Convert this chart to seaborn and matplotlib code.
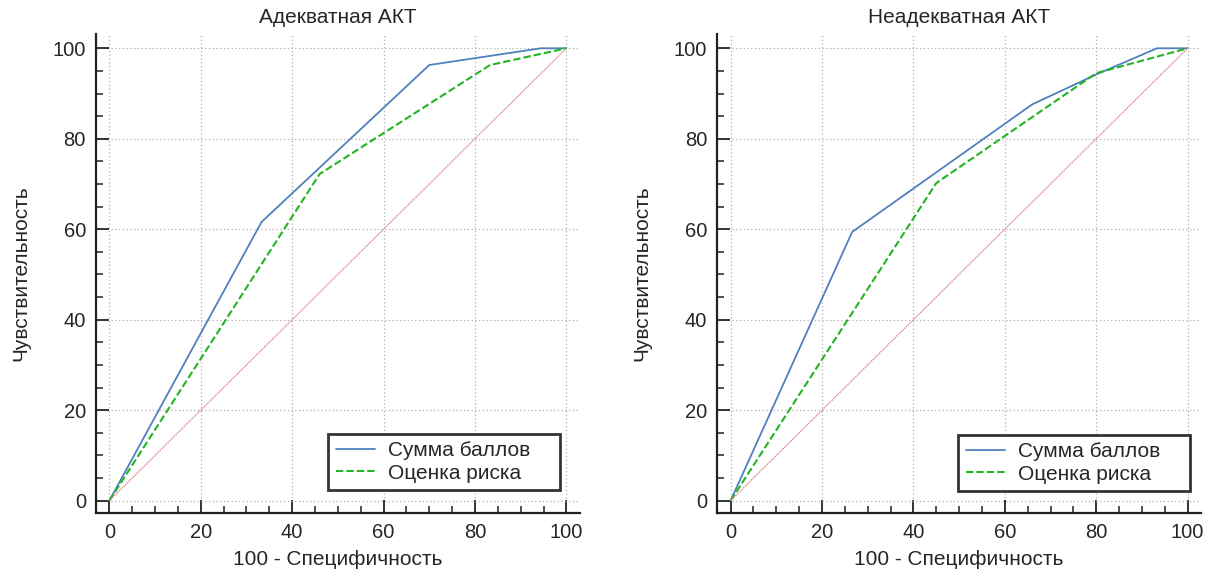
import seaborn as sns
import pandas as pd
from matplotlib import pyplot as plt
from matplotlib.ticker import MultipleLocator

# ROC-кривые: x = 100 - специфичность, y = чувствительность
titles = ["Адекватная АКТ", "Неадекватная АКТ"]
series_names = ["Сумма баллов", "Оценка риска"]

adeq_sum_x = [0, 33.3, 70.0, 94.4, 100]
adeq_sum_y = [0, 61.6, 96.3, 100, 100]
adeq_risk_x = [0, 46.0, 83.3, 100]
adeq_risk_y = [0, 72.2, 96.3, 100]

inadeq_sum_x = [0, 26.6, 66.0, 80.0, 93.3, 100]
inadeq_sum_y = [0, 59.4, 87.6, 94.2, 100, 100]
inadeq_risk_x = [0, 45.0, 80.0, 100]
inadeq_risk_y = [0, 70.2, 94.5, 100]

diag = [0, 100]

panels = [
    (adeq_sum_x, adeq_sum_y, adeq_risk_x, adeq_risk_y),
    (inadeq_sum_x, inadeq_sum_y, inadeq_risk_x, inadeq_risk_y),
]

sns.set_style("white")
plt.rcParams['font.family'] = ['Liberation Sans', 'DejaVu Sans']

fig = plt.figure(figsize=(12.11, 5.73), dpi=100)
positions = [[0.079, 0.105, 0.400, 0.836], [0.592, 0.105, 0.400, 0.836]]
legend_anchor = [(0.959, 0.048), (0.977, 0.046)]

for pos, anchor, title, (sx, sy, rx, ry) in zip(positions, legend_anchor, titles, panels):
    ax = fig.add_axes(pos)
    df = pd.concat([
        pd.DataFrame({"x": sx, "y": sy, "s": series_names[0]}),
        pd.DataFrame({"x": rx, "y": ry, "s": series_names[1]}),
    ])
    sns.lineplot(data=df[df.s == series_names[0]], x="x", y="y", sort=False,
                 color="#4f81bd", lw=1.3, ax=ax, label=series_names[0])
    sns.lineplot(data=df[df.s == series_names[1]], x="x", y="y", sort=False,
                 color="#22b422", lw=1.5, ls=(0, (3.5, 1.5)), ax=ax,
                 label=series_names[1])
    sns.lineplot(x=diag, y=diag, color="#e08a8a", lw=1.0, ls=(0, (1, 0.6)),
                 ax=ax, legend=False)

    ax.set_xlim(-3, 103)
    ax.set_ylim(-2.7, 103.2)
    ax.xaxis.set_major_locator(MultipleLocator(20))
    ax.yaxis.set_major_locator(MultipleLocator(20))
    ax.xaxis.set_minor_locator(MultipleLocator(5))
    ax.yaxis.set_minor_locator(MultipleLocator(5))
    ax.tick_params(which="both", bottom=True, left=True, top=False, right=False)
    ax.tick_params(which="major", direction="in", length=9.5, width=1.4,
                   color="#333333", labelsize=14.5, pad=7)
    ax.tick_params(which="minor", direction="in", length=5, width=1.2,
                   color="#333333")
    ax.grid(True, which="major", ls=(0, (1, 2)), color="#b0b0b0", lw=0.9)
    for side in ["top", "right"]:
        ax.spines[side].set_visible(False)
    for side in ["left", "bottom"]:
        ax.spines[side].set_linewidth(1.6)
        ax.spines[side].set_color("#222222")

    ax.set_title(title, fontsize=15, pad=8)
    ax.set_xlabel("100 - Специфичность", fontsize=15, labelpad=6)
    ax.set_ylabel("Чувствительность", fontsize=15, labelpad=16)

    handles, labels = ax.get_legend_handles_labels()
    leg = ax.legend(handles, [lab + "    " for lab in labels],
                    loc="lower right", bbox_to_anchor=anchor,
                    fontsize=15, fancybox=False, framealpha=1,
                    handlelength=1.9, handletextpad=0.6,
                    borderpad=0.35, labelspacing=0.15, borderaxespad=0)
    leg.get_frame().set_edgecolor("#333333")
    leg.get_frame().set_linewidth(2)

fig.savefig("out.png", dpi=100)
